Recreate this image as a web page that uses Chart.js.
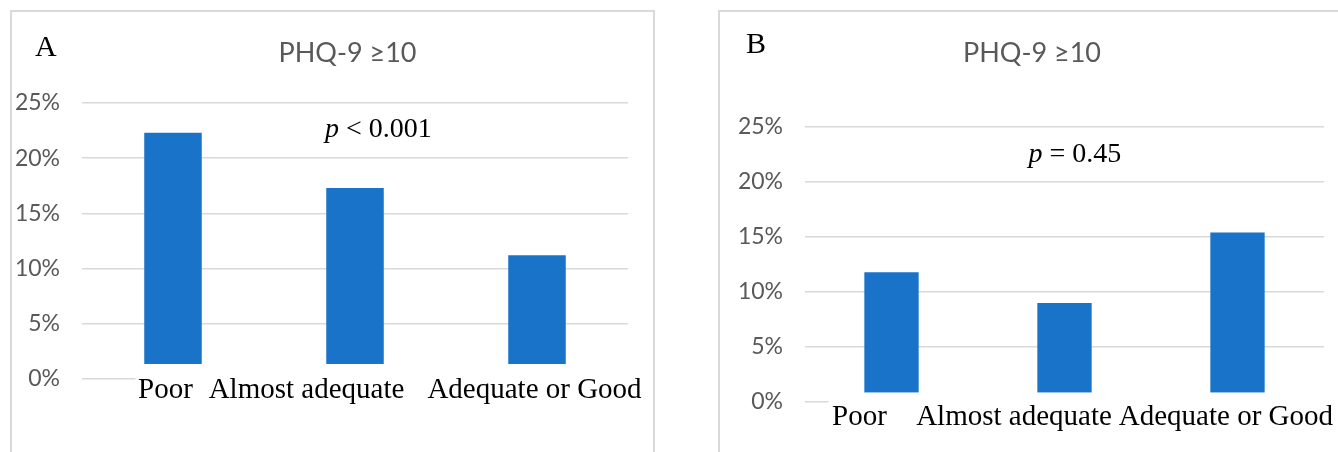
<!DOCTYPE html>
<html>
<head>
<meta charset="utf-8">
<script src="https://cdn.jsdelivr.net/npm/chart.js@4/dist/chart.umd.min.js"></script>
<style>
  html, body { margin:0; padding:0; background:#fff; }
  body { width:1338px; height:452px; position:relative; overflow:hidden; }
  .frame { position:absolute; border:2px solid #d9d9d9; border-bottom:none; box-sizing:border-box; z-index:5; pointer-events:none; background:transparent; }
  #frameA { left:10px; top:10px; width:645px; height:460px; }
  #frameB { left:718px; top:10px; width:640px; height:460px; border-right:none; }
  .cv { position:absolute; top:0; z-index:1; }
  #wrapA { left:0; width:680px; height:452px; }
  #wrapB { left:680px; width:658px; height:452px; }
</style>
</head>
<body>
<div class="cv" id="wrapA"><canvas id="chartA"></canvas></div>
<div class="cv" id="wrapB"><canvas id="chartB"></canvas></div>
<div class="frame" id="frameA"></div>
<div class="frame" id="frameB"></div>
<script>
// ---- data ----
const categories = ['Poor', 'Almost adequate', 'Adequate or Good'];
const valuesA = [22.3, 17.3, 11.2];   // % with PHQ-9 >= 10, panel A
const valuesB = [11.8, 9.0, 15.4];    // % with PHQ-9 >= 10, panel B
const yTicks = [0, 5, 10, 15, 20, 25];
const titleText = 'PHQ-9 \u226510';
const panelLetters = ['A', 'B'];
const pTexts = [['p', ' < 0.001'], ['p', ' = 0.45']];

const BAR_COLOR = '#1873c9';
const GRID_COLOR = '#d9d9d9';
const TICK_COLOR = '#595959';
const SERIF = '"Liberation Serif", "Times New Roman", serif';
const SANS = 'Lato, "Open Sans", "DejaVu Sans", sans-serif';

const overlay = {
  id: 'overlay',
  afterDatasetsDraw(chart, args, o) {
    const { ctx, chartArea: ca, scales: { x, y } } = chart;
    ctx.save();
    // white box of the pasted category-label strip
    const top = y.getPixelForValue(o.coverTop);
    ctx.fillStyle = '#ffffff';
    ctx.fillRect(o.coverLeft, top, chart.width - o.coverLeft, ca.bottom + 4 - top);
    // category labels
    ctx.fillStyle = '#000000';
    ctx.font = '29px ' + SERIF;
    ctx.textAlign = 'center';
    ctx.textBaseline = 'alphabetic';
    categories.forEach((c, i) => ctx.fillText(c, x.getPixelForValue(i) + o.labelShift[i], o.labelBaseline));
    // title
    ctx.fillStyle = TICK_COLOR;
    ctx.font = '27px ' + SANS;
    ctx.fillText(titleText, o.titleX, o.titleY);
    // panel letter
    ctx.fillStyle = '#000000';
    ctx.font = '30px ' + SERIF;
    ctx.textAlign = 'left';
    ctx.fillText(o.letter, o.letterX, o.letterY);
    // p value
    const [pi, rest] = o.pText;
    ctx.font = 'italic 28px ' + SERIF;
    const w1 = ctx.measureText(pi).width;
    ctx.font = '28px ' + SERIF;
    const w2 = ctx.measureText(rest).width;
    const cx = ca.left + o.pFrac * (ca.right - ca.left);
    const by = y.getPixelForValue(o.pValueY);
    let sx = cx - (w1 + w2) / 2;
    ctx.font = 'italic 28px ' + SERIF;
    ctx.fillText(pi, sx, by);
    ctx.font = '28px ' + SERIF;
    ctx.fillText(rest, sx + w1, by);
    ctx.restore();
  }
};

function makeChart(id, values, axisW, padding, ov) {
  return new Chart(document.getElementById(id), {
    type: 'bar',
    data: {
      labels: categories,
      datasets: [{
        data: values,
        backgroundColor: BAR_COLOR,
        borderWidth: 0,
        categoryPercentage: 1.0,
        barPercentage: ov.barPct
      }]
    },
    options: {
      responsive: true,
      maintainAspectRatio: false,
      animation: false,
      layout: { padding },
      plugins: { legend: { display: false }, tooltip: { enabled: false }, title: { display: false }, overlay: ov },
      scales: {
        x: { display: false },
        y: {
          min: yTicks[0], max: yTicks[yTicks.length - 1],
          afterFit: s => { s.width = axisW; },
          afterBuildTicks: s => { s.ticks = yTicks.map(v => ({ value: v })); },
          ticks: {
            callback: v => v + '%',
            color: TICK_COLOR,
            font: { family: SANS, size: 23 },
            padding: 22
          },
          grid: { color: GRID_COLOR, lineWidth: 1.6, drawTicks: false },
          border: { display: false }
        }
      }
    },
    plugins: [overlay]
  });
}

makeChart('chartA', valuesA, 82, { left: 0, right: 52, top: 103, bottom: 73 }, {
  barPct: 0.316, coverTop: 1.36, coverLeft: 135.5,
  labelShift: [-7.5, -48.5, -2.5], labelBaseline: 398,
  titleX: 347.5, titleY: 62, letter: panelLetters[0], letterX: 35, letterY: 56,
  pText: pTexts[0], pFrac: 0.543, pValueY: 21.9
});
makeChart('chartB', valuesB, 125, { left: 0, right: 14, top: 127, bottom: 50 }, {
  barPct: 0.314, coverTop: 0.87, coverLeft: 148.6,
  labelShift: [-32, -50.5, -11.6], labelBaseline: 425,
  titleX: 352, titleY: 62, letter: panelLetters[1], letterX: 66, letterY: 53,
  pText: pTexts[1], pFrac: 0.52, pValueY: 21.8
});
</script>
</body>
</html>
